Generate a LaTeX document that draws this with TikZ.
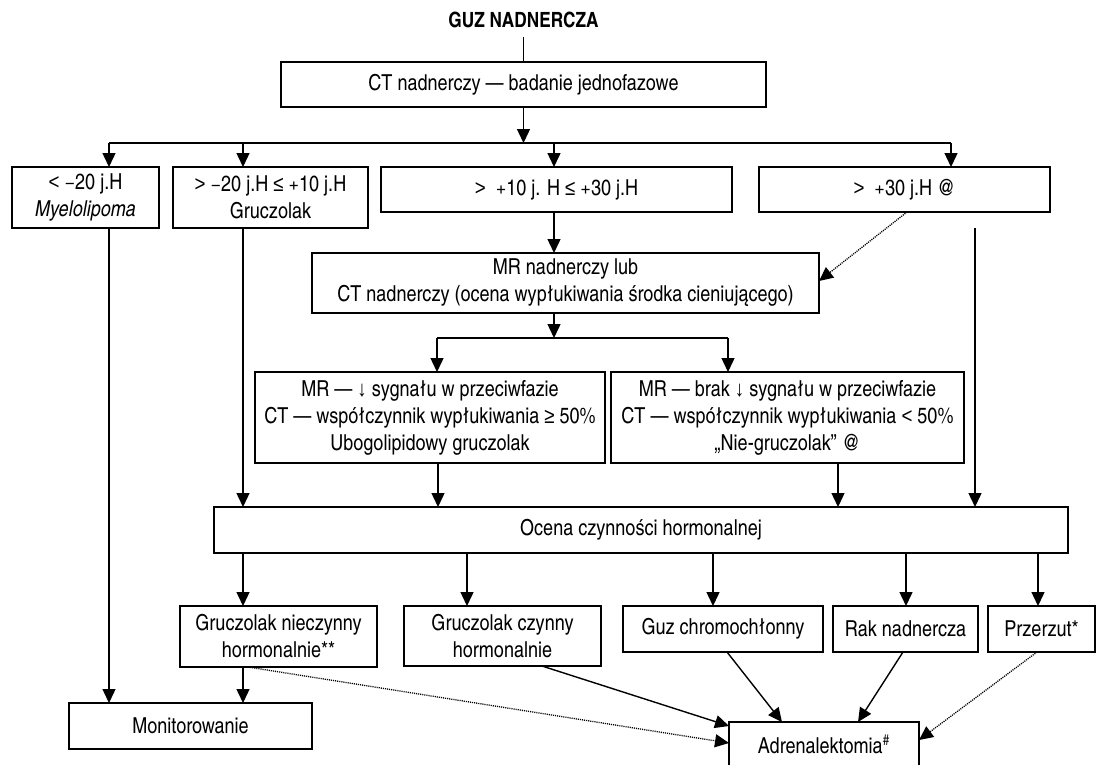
\documentclass[tikz,border=0pt]{standalone}
\usepackage{fontspec}
\setmainfont{texgyreheroscn}[Extension=.otf, UprightFont=*-regular, BoldFont=*-bold, ItalicFont=*-italic, BoldItalicFont=*-bolditalic]
\newfontfamily\symf{Liberation Sans}[FakeStretch=0.85]
\usetikzlibrary{arrows.meta,calc}
\newcommand{\dn}{{\symf ↓}}
\newcommand{\lesym}{{\symf ≤}}
\newcommand{\gesym}{{\symf ≥}}
\newcommand{\ltsym}{{\symf <}}
\newcommand{\gtsym}{{\symf >}}
\begin{document}
\begin{tikzpicture}[x=1pt,y=-1pt,
  box/.style={draw, line width=1.4pt, align=center, inner sep=0pt, outer sep=0pt,
    font=\fontsize{22}{27}\selectfont},
  conn/.style={line width=1.4pt},
  arr/.style={line width=1.4pt, -{Triangle[width=13pt,length=14pt]}},
  dots/.style={line width=1.3pt, dash pattern=on 1.1pt off 1pt, -{Triangle[width=13pt,length=14pt]}},
  titlestyle/.style={inner sep=0pt, font=\fontsize{21}{24}\selectfont\bfseries}
]
\fill[white] (0,0) rectangle (1097,764);
\useasboundingbox (0,0) rectangle (1097,764);

% nodes
\node[titlestyle] (title) at (523.5,20) {GUZ NADNERCZA};
\node[box, minimum width=485, minimum height=45] (ct) at (523.5,84.5) {CT nadnerczy — badanie jednofazowe};
\node[box, minimum width=147, minimum height=61] (b1) at (85.5,197.5) {\ltsym{} −20 j.H\\ \textit{Myelolipoma}};
\node[box, minimum width=195, minimum height=61] (b2) at (270.5,197.5) {\gtsym{} −20 j.H \lesym{} +10 j.H\\ Gruczolak};
\node[box, minimum width=351, minimum height=45] (b3) at (556.5,189.5) {\gtsym\ \ +10 j. H \lesym{} +30 j.H};
\node[box, minimum width=291, minimum height=45] (b4) at (904.5,189.5) {\gtsym\ \ +30 j.H @};
\node[box, minimum width=507, minimum height=60] (mr) at (565.5,283) {MR nadnerczy lub\\ CT nadnerczy (ocena wypłukiwania środka cieniującego)};
\node[box, minimum width=350, minimum height=91] (lb) at (430,417.5) {MR — \dn{} sygnału w przeciwfazie\\ CT — współczynnik wypłukiwania \gesym{} 50\%\\ Ubogolipidowy gruczolak};
\node[box, minimum width=353, minimum height=91] (rb) at (787.5,417.5) {MR — brak \dn{} sygnału w przeciwfazie\\ CT — współczynnik wypłukiwania \ltsym{} 50\%\\ „Nie-gruczolak” @};
\node[box, minimum width=854, minimum height=46] (oc) at (641,530) {Ocena czynności hormonalnej};
\node[box, minimum width=197, minimum height=61] (gn) at (278.5,636.5) {Gruczolak nieczynny\\ hormonalnie**};
\node[box, minimum width=197, minimum height=60] (gc) at (502.5,636) {Gruczolak czynny\\ hormonalnie};
\node[box, minimum width=200, minimum height=46] (guz) at (723,629) {Guz chromochłonny};
\node[box, minimum width=145, minimum height=46] (rak) at (905.5,629) {Rak nadnercza};
\node[box, minimum width=107, minimum height=46] (prz) at (1041.5,629) {Przerzut*};
\node[box, minimum width=243, minimum height=46] (mon) at (190.5,726) {Monitorowanie};
\node[box, minimum width=190, minimum height=45] (adr) at (824,744.5) {Adrenalektomia\textsuperscript{\#}};

% junction coordinates
\coordinate (t1) at (523.5,37);
\coordinate (j0) at (523.5,143);
\coordinate (h1) at (109,143);
\coordinate (h2) at (243,143);
\coordinate (h3) at (554,143);
\coordinate (h4) at (951,143);
\coordinate (r1) at (975,228);
\coordinate (s0) at (554,338);
\coordinate (s1) at (437,338);
\coordinate (s2) at (728,338);

% top
\draw[conn] (t1) -- (ct.north);
\draw[arr] (ct.south) -- (j0);
\draw[conn] (h1) -- (h4);
\draw[arr] (h1) -- (h1 |- b1.north);
\draw[arr] (h2) -- (h2 |- b2.north);
\draw[arr] (h3) -- (h3 |- b3.north);
\draw[arr] (h4) -- (h4 |- b4.north);

% from row 1
\draw[arr] (b1.south -| h1) -- (h1 |- mon.north);
\draw[arr] (b2.south -| h2) -- (h2 |- oc.north);
\draw[arr] (b3.south -| h3) -- (h3 |- mr.north);
\draw[dots] (b4.south -| 907,0) -- (mr.east |- 0,281);
\draw[arr] (r1) -- (r1 |- oc.north);

% MR split
\draw[arr] (mr.south -| s0) -- (s0);
\draw[conn] (s1) -- (s2);
\draw[arr] (s1) -- (s1 |- lb.north);
\draw[arr] (s2) -- (s2 |- rb.north);
\draw[arr] (lb.south -| 438,0) -- (oc.north -| 438,0);
\draw[arr] (rb.south -| 838,0) -- (oc.north -| 838,0);

% Ocena outputs
\draw[arr] (oc.south -| 243,0) -- (gn.north -| 243,0);
\draw[arr] (oc.south -| 467,0) -- (gc.north -| 467,0);
\draw[arr] (oc.south -| 713,0) -- (guz.north -| 713,0);
\draw[arr] (oc.south -| 906,0) -- (rak.north -| 906,0);
\draw[arr] (oc.south -| 1038,0) -- (prz.north -| 1038,0);

% bottom
\draw[arr] (gn.south -| 243,0) -- (mon.north -| 243,0);
\draw[dots] (gn.south -| 248,0) -- (adr.west |- 0,743);
\draw[arr] (gc.south -| 542,0) -- (adr.west |- 0,726);
\draw[arr] (guz.south -| 727,0) -- (adr.north -| 782,0);
\draw[arr] (rak.south -| 903,0) -- (adr.north -| 858,0);
\draw[dots] (prz.south -| 1037,0) -- (adr.east |- 0,740);
\end{tikzpicture}
\end{document}
